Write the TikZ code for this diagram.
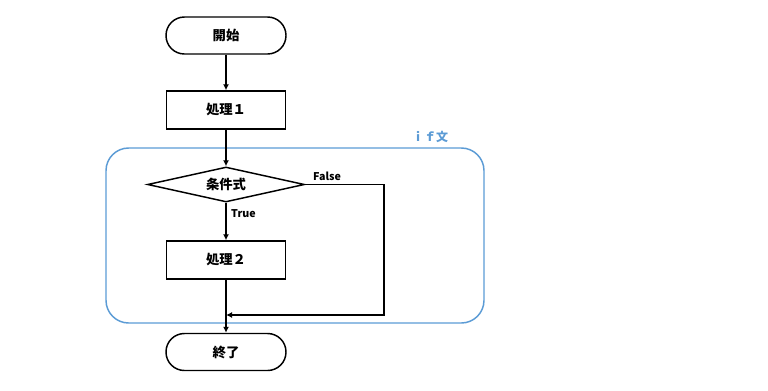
\documentclass[tikz,border=0pt]{standalone}
\usepackage{fontspec}
\setmainfont{Noto Sans CJK JP}
\usetikzlibrary{arrows.meta,positioning,shapes.geometric}
\definecolor{ifblue}{RGB}{91,155,213}
\tikzset{
  term/.style={draw, line width=1.1pt, rounded corners=13.8pt,
               minimum width=90pt, minimum height=27.75pt, font=\bfseries},
  proc/.style={draw, line width=1.1pt, minimum width=89pt,
               minimum height=28.5pt, font=\bfseries},
  cond/.style={draw, line width=1.1pt, diamond, aspect=4.5, inner sep=0pt,
               minimum width=117.75pt, minimum height=26.25pt, font=\bfseries},
  flow/.style={-{Latex[length=4.5pt,width=4.5pt]}, line width=1.1pt},
  blab/.style={font=\footnotesize\bfseries},
  ifbox/.style={draw=ifblue, line width=1.1pt, rounded corners=17pt,
                minimum width=283.5pt, minimum height=131.25pt},
}

\begin{document}
\begin{tikzpicture}[x=0.75pt, y=-0.75pt]
    \useasboundingbox (0,0) rectangle (768,390);
    % if block frame
    \node[ifbox] (ifframe) at (295,235.5) {};
    \node[ifblue, font=\small\bfseries, anchor=south east] (iflab)
      at ([xshift=-24pt]ifframe.north east) {ｉｆ文};
    % flow nodes
    \node[term] (start) at (226,35.5) {開始};
    \node[proc] (p1) at (226,110) {処理１};
    \node[cond] (cond) at (226,184.5) {条件式};
    \node[proc] (p2) at (226,260) {処理２};
    \node[term] (stop) at (226,352) {終了};
    \coordinate (fcorner) at (384,184.5);
    \coordinate (join) at (226,315);
    % connectors
    \draw[flow] (start) -- (p1);
    \draw[flow] (p1) -- (cond);
    \draw[flow] (cond) -- node[blab, right, pos=0.3] {True} (p2);
    \draw[flow] (p2) -- (stop);
    \draw[flow] (cond.east) -- node[blab, above right, pos=0, xshift=2pt, yshift=-1pt] {False} (fcorner) |- (join);
  \end{tikzpicture}
\end{document}
